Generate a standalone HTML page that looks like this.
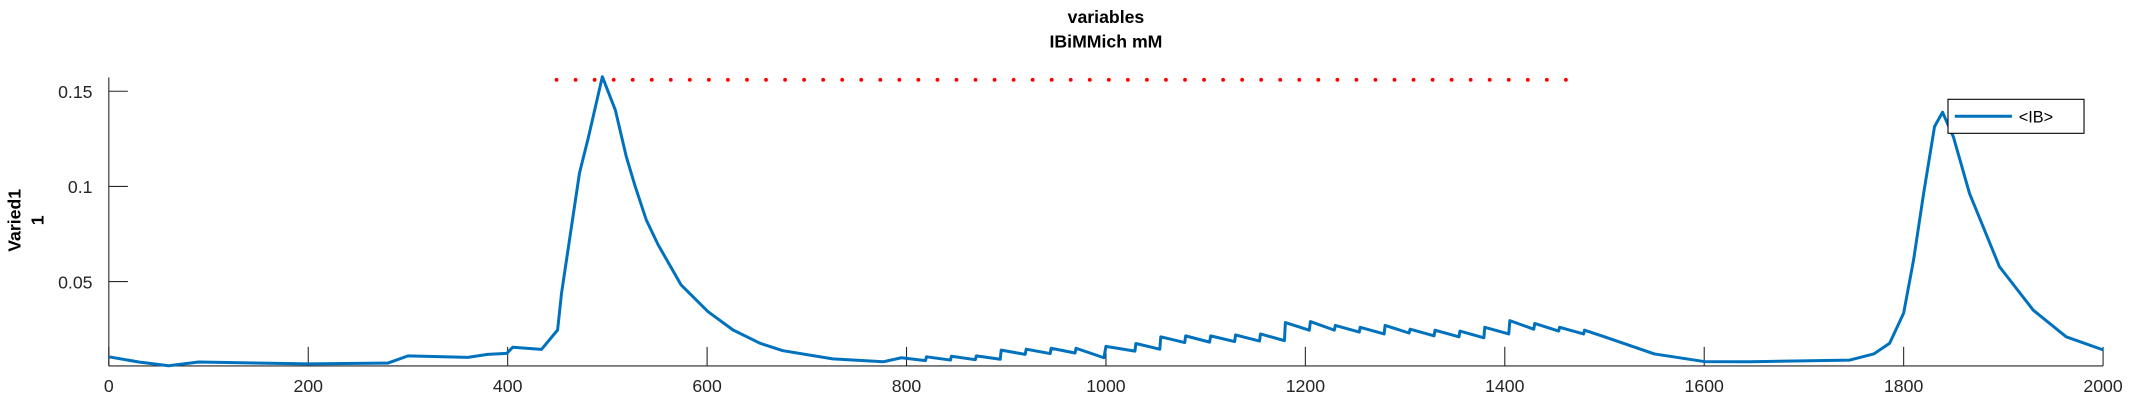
<!DOCTYPE html>
<html><head><meta charset="utf-8"><style>
html,body{margin:0;padding:0;background:#fff;}
svg{display:block;font-family:"Liberation Sans",sans-serif;}
</style></head><body>
<svg id="chart" width="2133" height="400" viewBox="0 0 2133 400" xmlns="http://www.w3.org/2000/svg">
<g transform="scale(1.36033)">
<g font-weight="bold" font-size="13" text-anchor="middle" fill="#000">
<text x="813" y="17">variables</text>
<text x="813" y="35">IBiMMich mM</text>
</g>
<g font-weight="bold" font-size="13" text-anchor="middle">
<text transform="translate(15,162) rotate(-90)">Varied1</text>
<text transform="translate(32,162) rotate(-90)">1</text>
</g>
<g id="axes"></g>
<g id="marks"></g>
<g>
<rect x="1432" y="73" width="100" height="25" fill="#fff" stroke="#000" stroke-width="0.8"/>
<line x1="1437" y1="85.5" x2="1479" y2="85.5" stroke="#0072BD" stroke-width="2.2"/>
<text x="1484" y="90" font-size="12">&lt;IB&gt;</text>
</g>
</g>
</svg>
<script>
const xTicks = [0,200,400,600,800,1000,1200,1400,1600,1800,2000];
const yTicks = [0.05,0.1,0.15];
const yTickLabels = ["0.05","0.1","0.15"];
const seriesT = [0,30,60,90,200,280,300,360,380,399,405,434,450,454,464,472,481,495,508,519,528,539,551,574,601,626,653,676,726,777,
795,819,820,844,845,869,870,894,895,919,920,944,945,969,970,998,1000,1029,1030,1054,1055,1079,1080,1104,1105,1129,1130,1154,1155,1179,1180,1204,1205,1229,1230,1254,1255,1279,1280,1304,1305,1329,1330,1354,1355,1379,1380,1404,1405,1429,1430,1454,1455,1479,1480,
1500,1550,1600,1646,1746,1770,1786,1800,1810,1820,1831,1839,1850,1866,1896,1930,1963,2000];
const seriesV = [0.0105,0.0078,0.0058,0.0078,0.0068,0.0072,0.0110,0.0102,0.0118,0.0123,0.0155,0.0144,0.0246,0.0439,0.0789,0.107,0.126,0.1576,0.140,0.1156,0.0999,0.0824,0.0692,0.0482,0.0342,0.0246,0.0176,0.0137,0.0094,0.0079,
0.0100,0.0085,0.0105,0.0088,0.0108,0.0090,0.0110,0.0092,0.0140,0.0118,0.0145,0.0122,0.0150,0.0125,0.0150,0.0100,0.0160,0.0135,0.0175,0.0145,0.0210,0.0180,0.0215,0.0182,0.0215,0.0185,0.0220,0.0188,0.0225,0.0190,0.0285,0.0245,0.0290,0.0245,0.0270,0.0235,0.0260,0.0225,0.0270,0.0230,0.0250,0.0215,0.0245,0.0210,0.0240,0.0205,0.0260,0.0225,0.0295,0.0250,0.0280,0.0240,0.0260,0.0225,0.0245,
0.0210,0.0120,0.0080,0.0079,0.0088,0.0120,0.0176,0.0334,0.0614,0.0964,0.1314,0.1390,0.1260,0.0964,0.0579,0.0350,0.0210,0.0141];
const refStart = 449, refEnd = 1477, refValue = 0.156;

const X0=80, X1=1546, Y0=269, Y1=57;
const yMin=0.0057, yMax=0.1572;
function xs(t){return X0+(t-0)/(2000-0)*(X1-X0);}
function ys(v){return Y0-(v-yMin)/(yMax-yMin)*(Y0-Y1);}
const NS="http://www.w3.org/2000/svg";
const axes=document.getElementById('axes'), marks=document.getElementById('marks');
function mk(tag,attrs,parent){const e=document.createElementNS(NS,tag);for(const k in attrs)e.setAttribute(k,attrs[k]);parent.appendChild(e);return e;}

let e=mk('line',{x1:X0,y1:Y1,x2:X0,y2:Y0,stroke:'#262626','stroke-width':0.8},axes);


e=mk('line',{x1:X0,y1:Y0,x2:X1,y2:Y0,stroke:'#262626','stroke-width':0.8},axes);


xTicks.forEach(t=>{
  const l=mk('line',{x1:xs(t),y1:Y0,x2:xs(t),y2:Y0-14,stroke:'#262626','stroke-width':0.8},axes);
  
  
  const tx=mk('text',{x:xs(t),y:Y0+19,'font-size':13,'text-anchor':'middle',fill:'#262626'},axes);
  tx.textContent=String(t);
  
  
});
yTicks.forEach((v,i)=>{
  const l=mk('line',{x1:X0,y1:ys(v),x2:X0+14,y2:ys(v),stroke:'#262626','stroke-width':0.8},axes);
  
  
  const tx=mk('text',{x:X0-12,y:ys(v)+5,'font-size':13,'text-anchor':'end',fill:'#262626'},axes);
  tx.textContent=yTickLabels[i];
  
  
});
const ref=mk('line',{x1:xs(refStart),y1:ys(refValue),x2:xs(refEnd),y2:ys(refValue),stroke:'#ff0000','stroke-width':2.8,'stroke-dasharray':'0 14','stroke-linecap':'round'},marks);


const d=seriesT.map((t,i)=>(i?'L':'M')+xs(t).toFixed(1)+','+ys(seriesV[i]).toFixed(1)).join('');
const p=mk('path',{d:d,fill:'none',stroke:'#0072BD','stroke-width':2.2,'stroke-linejoin':'round'},marks);


</script>
</body></html>
